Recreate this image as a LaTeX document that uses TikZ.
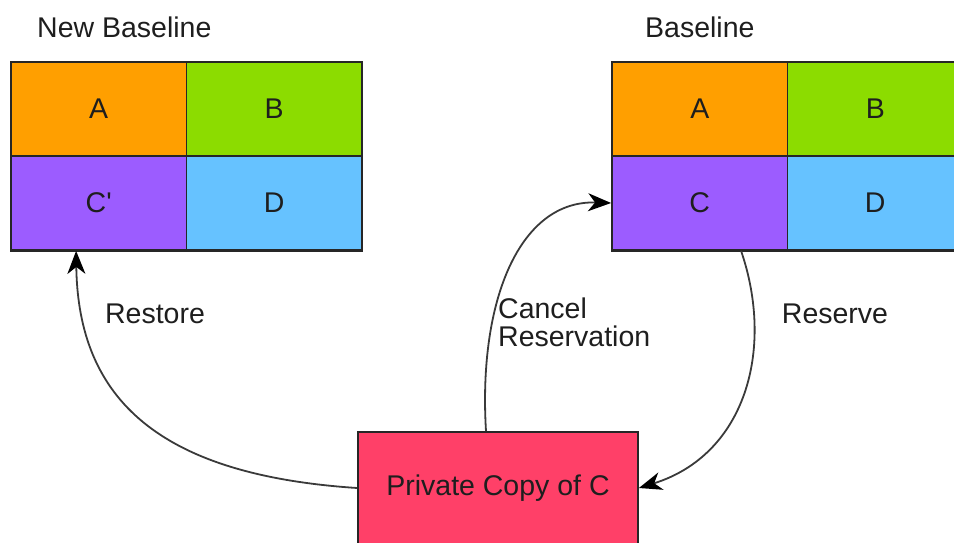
\documentclass[tikz,border=0pt]{standalone}
\usepackage{fontspec}
\setmainfont{Liberation Sans}
\usetikzlibrary{arrows.meta}
\definecolor{corange}{HTML}{FF9F00}
\definecolor{cgreen}{HTML}{8CDC00}
\definecolor{cpurple}{HTML}{9C5CFF}
\definecolor{cblue}{HTML}{66C2FF}
\definecolor{cpink}{HTML}{FF4068}
\definecolor{ctext}{HTML}{1E1E1E}
\definecolor{cline}{HTML}{3A3A3A}
\begin{document}
\begin{tikzpicture}[x=1pt,y=1pt,
  txt/.style={font=\fontsize{28.5}{32}\selectfont, text=ctext},
  cell/.style={txt, draw=black!85, line width=1.8pt, minimum width=175.5pt, minimum height=94pt, inner sep=0pt},
  privbox/.style={txt, draw=black!85, line width=1.8pt, fill=cpink, minimum width=280pt, minimum height=112pt, inner sep=0pt},
  lbl/.style={txt, inner sep=0pt},
  conn/.style={draw=cline, line width=1.8pt, -{Stealth[length=23pt,width=18pt,inset=7pt,color=black]}}
]
\useasboundingbox (0,0) rectangle (954,-542);
\clip (0,0) rectangle (954,-542);
% left grid (New Baseline)
\node[cell, fill=corange] (LA) at (98.75,-109) {A};
\node[cell, fill=cgreen]  (LB) at (274.25,-109) {B};
\node[cell, fill=cpurple] (LC) at (98.75,-203) {C\textquotesingle};
\node[cell, fill=cblue]   (LD) at (274.25,-203) {D};
\draw[black!85, line width=3pt] (LC.south west) -- (LD.south east);
% right grid (Baseline)
\node[cell, fill=corange] (RA) at (699.75,-109) {A};
\node[cell, fill=cgreen]  (RB) at (875.25,-109) {B};
\node[cell, fill=cpurple] (RC) at (699.75,-203) {C};
\node[cell, fill=cblue]   (RD) at (875.25,-203) {D};
\draw[black!85, line width=3pt] (RC.south west) -- (RD.south east);
% private copy
\node[privbox] (P) at (498,-488) {Private Copy of C};
% titles
\node[lbl, anchor=west] (tnew) at (37,-27) {New Baseline};
\node[lbl, anchor=west] (tbase) at (645,-27) {Baseline};
% labels
\node[lbl] (lrestore) at (155,-314) {Restore};
\node[lbl, anchor=west, align=left] (lcancel) at (498,-322) {Cancel\\[-4pt]Reservation};
\node[lbl] (lreserve) at (835,-314) {Reserve};
% connectors
\draw[conn] (P.west) .. controls (160,-475) and (78,-400) .. ([xshift=66pt]LC.south west);
\draw[conn] ([xshift=-12pt]P.north) .. controls (478,-300) and (520,-200) .. (RC.west);
\draw[conn] ([xshift=130pt]RC.south west) .. controls (775,-350) and (745,-455) .. (P.east);
\end{tikzpicture}
\end{document}
